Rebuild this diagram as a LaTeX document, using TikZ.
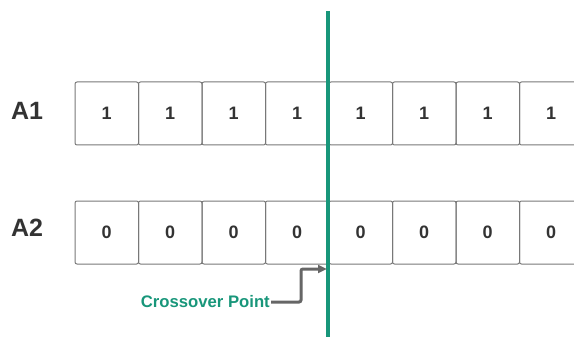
\documentclass[tikz,border=0pt]{standalone}
\usepackage{fontspec}
\setmainfont{Liberation Sans}
\usetikzlibrary{arrows.meta,positioning}
\definecolor{xgreen}{RGB}{24,150,122}
\definecolor{cellline}{RGB}{120,120,120}
\definecolor{digit}{RGB}{51,51,51}
\tikzset{
    cell/.style={draw=cellline,line width=1pt,rounded corners=2pt,
        minimum width=63.5pt,minimum height=63pt,inner sep=0pt,
        font=\fontsize{18}{18}\selectfont\bfseries,text=digit},
    rowlabel/.style={font=\fontsize{25}{25}\selectfont\bfseries,text=digit},
}

\begin{document}
\begin{tikzpicture}[x=1pt,y=-1pt]
\useasboundingbox (0,0) rectangle (574,337);
\clip (0,0) rectangle (574,337);

        % the two parents
        \node[rowlabel] (lblA) at (27,111) {A1};
        \node[rowlabel] (lblB) at (27,228) {A2};

        \foreach \i in {0,...,7} {
            \node[cell] (a\i) at (106.75+63.5*\i,113.5) {1};
            \node[cell] (b\i) at (106.75+63.5*\i,232.5) {0};
        }


        % crossover line
        \coordinate (cutTop) at (328,11);
        \coordinate (cutBot) at (328,337);
        \draw[xgreen, line width=4pt] (cutTop) -- (cutBot);


        \node[anchor=east, text=xgreen, font=\fontsize{16.7}{16.7}\selectfont\bfseries, inner sep=1pt] (cross) at (271,302) {Crossover Point};
        \coordinate (tip) at (327,269);
        \draw[-{Triangle[length=9pt,width=8pt]}, line width=3pt, draw=black!60, rounded corners=2pt]
            (cross.east) -- (301,302) -- (301,269) -- (tip);
\end{tikzpicture}
\end{document}
